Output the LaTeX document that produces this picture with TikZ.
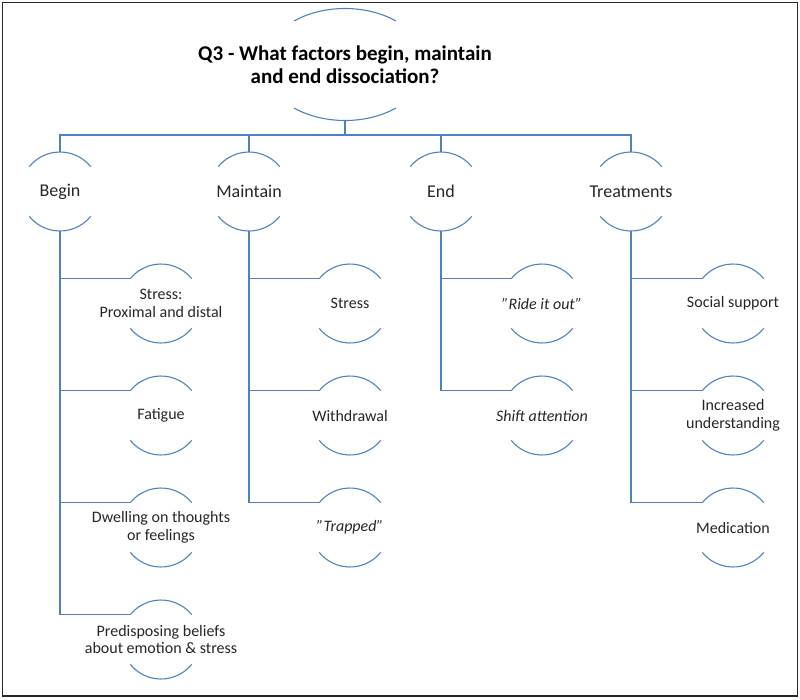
\documentclass[tikz,border=0pt]{standalone}
\usepackage{fontspec}
\setmainfont{Carlito}
\usetikzlibrary{shapes.geometric,calc}
\definecolor{linkblue}{HTML}{4F81BD}
\definecolor{inkgray}{HTML}{262626}
\newcommand{\sq}{\symbol{34}}

\begin{document}
\begin{tikzpicture}[x=1pt,y=-1pt,
  bub/.style={circle,minimum size=79pt,inner sep=0pt,outer sep=0pt},
  arcline/.style={draw=linkblue,line width=1.1pt},
  link/.style={draw=linkblue,line width=1.3pt},
  headtxt/.style={font=\bfseries\fontsize{21}{23}\selectfont,text=black,align=center},
  lvlone/.style={font=\fontsize{18}{21}\selectfont,text=inkgray},
  lvltwo/.style={font=\fontsize{16}{17.5}\selectfont,text=inkgray,align=center}]
  \useasboundingbox (0,0) rectangle (800,699);

  % rahmen
  \draw[line width=1.4pt,draw=inkgray] (2.5,2.5) rectangle (797.3,695.8);

  % frage oben
  \node[ellipse,minimum width=162pt,minimum height=112pt,inner sep=0pt,outer sep=0pt,
    label={[headtxt]center:{Q3 - What factors begin, maintain\\and end dissociation?}}] (q3) at (345,64.5) {};
  \draw[arcline] ($(q3)+(51:81pt and 56pt)$) arc[start angle=51,end angle=129,x radius=81pt,y radius=56pt];
  \draw[arcline] ($(q3)+(-51:81pt and 56pt)$) arc[start angle=-51,end angle=-129,x radius=81pt,y radius=56pt];

  % erste ebene
  \node[bub,label={[lvlone]center:Begin}] (beg) at (60,191.5) {};
  \node[bub,label={[lvlone]center:Maintain}] (mnt) at (249,191.5) {};
  \node[bub,label={[lvlone]center:End}] (fin) at (441,191.5) {};
  \node[bub,label={[lvlone]center:Treatments}] (trt) at (631,191.5) {};

  % begin
  \node[bub,label={[lvltwo]center:{Stress:\\Proximal and distal}}] (beg1) at (161,303.5) {};
  \node[bub,label={[lvltwo]center:Fatigue}] (beg2) at (161,415.5) {};
  \node[bub,label={[lvltwo]center:{Dwelling on thoughts\\or feelings}}] (beg3) at (161,527.5) {};
  \node[bub,label={[lvltwo]center:{Predisposing beliefs\\about emotion \& stress}}] (beg4) at (161,639.5) {};

  % maintain
  \node[bub,label={[lvltwo]center:Stress}] (mnt1) at (350,303.5) {};
  \node[bub,label={[lvltwo]center:Withdrawal}] (mnt2) at (350,415.5) {};
  \node[bub,label={[lvltwo]center:\textit{\sq Trapped\sq}}] (mnt3) at (350,527.5) {};

  % end
  \node[bub,label={[lvltwo]center:\textit{\sq Ride it out\sq}}] (fin1) at (542,303.5) {};
  \node[bub,label={[lvltwo]center:\textit{Shift attention}}] (fin2) at (542,415.5) {};

  % treatments
  \node[bub,label={[lvltwo]center:Social support}] (trt1) at (733,303.5) {};
  \node[bub,label={[lvltwo]center:{Increased\\understanding}}] (trt2) at (733,415.5) {};
  \node[bub,label={[lvltwo]center:Medication}] (trt3) at (733,527.5) {};

  % boegen
  \foreach \n in {beg,mnt,fin,trt,beg1,beg2,beg3,beg4,mnt1,mnt2,mnt3,fin1,fin2,trt1,trt2,trt3} {
    \draw[arcline] (\n.39) arc[start angle=39,end angle=141,radius=39.5pt];
    \draw[arcline] (\n.-39) arc[start angle=-39,end angle=-141,radius=39.5pt];
  }

  % verbindungen
  \coordinate (bus) at (345,135);
  \draw[link] (q3.south) -- (bus);
  \draw[link] (beg.north) |- (bus) -| (trt.north);
  \draw[link] (mnt.north) -- (mnt.north |- bus);
  \draw[link] (fin.north) -- (fin.north |- bus);

  \draw[link] (beg.south) |- (beg4.141);
  \foreach \c in {beg1,beg2,beg3} \draw[link] (beg.south |- \c.141) -- (\c.141);
  \draw[link] (mnt.south) |- (mnt3.141);
  \foreach \c in {mnt1,mnt2} \draw[link] (mnt.south |- \c.141) -- (\c.141);
  \draw[link] (fin.south) |- (fin2.141);
  \draw[link] (fin.south |- fin1.141) -- (fin1.141);
  \draw[link] (trt.south) |- (trt3.141);
  \foreach \c in {trt1,trt2} \draw[link] (trt.south |- \c.141) -- (\c.141);
\end{tikzpicture}
\end{document}
